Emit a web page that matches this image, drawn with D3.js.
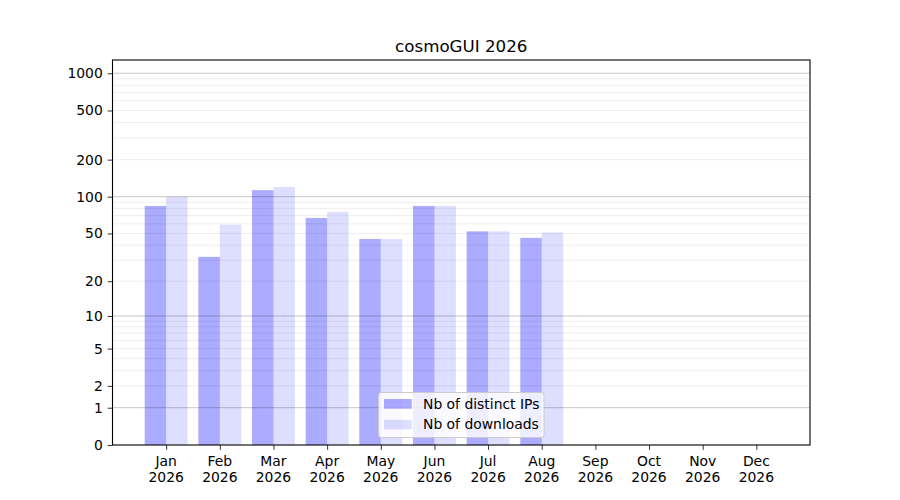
<!DOCTYPE html>
<html>
<head>
<meta charset="utf-8">
<script src="https://cdn.jsdelivr.net/npm/d3@7"></script>
<style>
  body { margin: 0; background: #fff; }
  text { font-family: "DejaVu Sans", sans-serif; fill: #000; }
</style>
</head>
<body>
<script>
const w = 900;
const h = 500;

// Data
const months = ["Jan", "Feb", "Mar", "Apr", "May", "Jun", "Jul", "Aug", "Sep", "Oct", "Nov", "Dec"];
const year = "2026";
const distinctIPs = [84, 32, 113, 67, 45, 84, 52, 46, 0, 0, 0, 0];
const downloads = [100, 59, 120, 75, 45, 84, 52, 51, 0, 0, 0, 0];
const yTicks = [0, 1, 2, 5, 10, 20, 50, 100, 200, 500, 1000];
const majorGrid = [1, 10, 100, 1000];
const minorGrid = [2, 3, 4, 5, 6, 7, 8, 9, 20, 30, 40, 50, 60, 70, 80, 90, 200, 300, 400, 500, 600, 700, 800, 900];
const seriesNames = ["Nb of distinct IPs", "Nb of downloads"];

// Axes box (matplotlib defaults for a 9x5in figure)
const axL = 112.5, axR = 810, axT = 60, axB = 445;
const tick = 4.86;

const x = d3.scaleLinear().domain([0, 13]).range([axL, axR]);
// log10(1 + v) scale == d3 symlog with constant 1
const y = d3.scaleSymlog().constant(1).domain([0, 1280]).range([axB, axT]);

const svg = d3
  .select("body")
  .append("svg")
  .attr("width", w)
  .attr("height", h);

const barW = 0.4;

// Bars
svg
  .append("g")
  .selectAll("rect")
  .data(distinctIPs)
  .enter()
  .append("rect")
  .attr("x", (d, i) => x(i + 1 - barW))
  .attr("width", x(barW) - x(0))
  .attr("y", (d) => y(d))
  .attr("height", (d) => axB - y(d))
  .attr("fill", "blue")
  .attr("fill-opacity", 0.33);

svg
  .append("g")
  .selectAll("rect")
  .data(downloads)
  .enter()
  .append("rect")
  .attr("x", (d, i) => x(i + 1))
  .attr("width", x(barW) - x(0))
  .attr("y", (d) => y(d))
  .attr("height", (d) => axB - y(d))
  .attr("fill", "blue")
  .attr("fill-opacity", 0.13);

// Grid lines (drawn above the bars, like matplotlib)
svg
  .append("g")
  .selectAll("line")
  .data(minorGrid)
  .enter()
  .append("line")
  .attr("x1", axL)
  .attr("x2", axR)
  .attr("y1", (d) => y(d))
  .attr("y2", (d) => y(d))
  .attr("stroke", "#000")
  .attr("stroke-opacity", 0.065)
  .attr("stroke-width", 1);

svg
  .append("g")
  .selectAll("line")
  .data(majorGrid)
  .enter()
  .append("line")
  .attr("x1", axL)
  .attr("x2", axR)
  .attr("y1", (d) => y(d))
  .attr("y2", (d) => y(d))
  .attr("stroke", "#000")
  .attr("stroke-opacity", 0.22)
  .attr("stroke-width", 1);

// Y axis
const yAxis = d3
  .axisLeft(y)
  .tickValues(yTicks)
  .tickFormat(d3.format("d"))
  .tickSize(tick)
  .tickPadding(4.86);

const gy = svg.append("g").attr("transform", `translate(${axL},0)`).call(yAxis);
gy.select(".domain").remove();
gy.selectAll("line").attr("stroke", "#000").attr("stroke-width", 0.8);
gy.selectAll("text")
  .style("font-family", "DejaVu Sans")
  .style("font-size", "13.9px");

// X axis with two-line labels
const xAxis = d3
  .axisBottom(x)
  .tickValues(d3.range(1, 13))
  .tickFormat("")
  .tickSize(tick);

const gx = svg.append("g").attr("transform", `translate(0,${axB})`).call(xAxis);
gx.select(".domain").remove();
gx.selectAll("line").attr("stroke", "#000").attr("stroke-width", 0.8);

const xl = svg
  .append("g")
  .selectAll("text")
  .data(months)
  .enter()
  .append("text")
  .attr("text-anchor", "middle")
  .style("font-size", "13.9px");
xl.append("tspan")
  .attr("x", (d, i) => x(i + 1))
  .attr("y", 466)
  .text((d) => d);
xl.append("tspan")
  .attr("x", (d, i) => x(i + 1))
  .attr("y", 482)
  .text(year);

// Axes frame
svg
  .append("rect")
  .attr("x", axL)
  .attr("y", axT)
  .attr("width", axR - axL)
  .attr("height", axB - axT)
  .attr("fill", "none")
  .attr("stroke", "#000")
  .attr("stroke-width", 1.1);

// Title
svg
  .append("text")
  .attr("x", (axL + axR) / 2)
  .attr("y", 52)
  .attr("text-anchor", "middle")
  .style("font-size", "16.7px")
  .text("cosmoGUI " + year);

// Legend (lower center)
const legend = svg.append("g");
legend
  .append("rect")
  .attr("x", 378.5)
  .attr("y", 392.5)
  .attr("width", 165.5)
  .attr("height", 45)
  .attr("rx", 2.8)
  .attr("fill", "#fff")
  .attr("fill-opacity", 0.8)
  .attr("stroke", "#cccccc")
  .attr("stroke-width", 1);

const opac = [0.33, 0.13];
seriesNames.forEach(function (name, i) {
  legend
    .append("rect")
    .attr("x", 384)
    .attr("y", 399 + i * 20.8)
    .attr("width", 27.8)
    .attr("height", 9.7)
    .attr("fill", "blue")
    .attr("fill-opacity", opac[i]);
  legend
    .append("text")
    .attr("x", 423)
    .attr("y", 408.5 + i * 20.8)
    .style("font-size", "13.9px")
    .text(name);
});
</script>
</body>
</html>
